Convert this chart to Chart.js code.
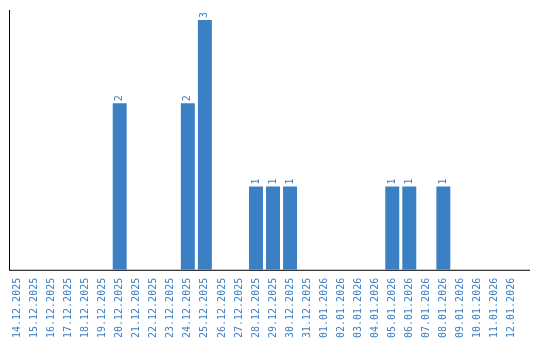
<!DOCTYPE html>
<html>
<head>
<meta charset="utf-8">
<script src="https://cdn.jsdelivr.net/npm/chart.js@4.4.1/dist/chart.umd.min.js"></script>
<style>
  html, body { margin: 0; padding: 0; background: #fff; }
  #wrap { width: 540px; height: 340px; }
</style>
</head>
<body>
<div id="wrap"><canvas id="myChart" width="540" height="340"></canvas></div>
<script>
// Données du graphique
const days = [
    '14.12.2025', '15.12.2025', '16.12.2025', '17.12.2025', '18.12.2025',
    '19.12.2025', '20.12.2025', '21.12.2025', '22.12.2025', '23.12.2025',
    '24.12.2025', '25.12.2025', '26.12.2025', '27.12.2025', '28.12.2025',
    '29.12.2025', '30.12.2025', '31.12.2025', '01.01.2026', '02.01.2026',
    '03.01.2026', '04.01.2026', '05.01.2026', '06.01.2026', '07.01.2026',
    '08.01.2026', '09.01.2026', '10.01.2026', '11.01.2026', '12.01.2026'
];
const counts = [
    0, 0, 0, 0, 0,
    0, 2, 0, 0, 0,
    2, 3, 0, 0, 1,
    1, 1, 0, 0, 0,
    0, 0, 1, 1, 0,
    1, 0, 0, 0, 0
];

const blue = '#3b7fc4';
const mono = '"DejaVu Sans Mono", monospace';

// Plugin : valeur au-dessus de chaque barre (texte vertical) + axe X prolongé
const valueLabels = {
    id: 'valueLabels',
    afterDatasetsDraw(chart) {
        const ctx = chart.ctx;
        const area = chart.chartArea;
        const meta = chart.getDatasetMeta(0);
        ctx.save();
        // l'axe du bas dépasse un peu la dernière catégorie
        ctx.strokeStyle = '#000';
        ctx.lineWidth = 1;
        ctx.beginPath();
        ctx.moveTo(area.left, area.bottom + 0.5);
        ctx.lineTo(area.right + 10, area.bottom + 0.5);
        ctx.stroke();

        ctx.fillStyle = blue;
        ctx.font = '10px ' + mono;
        ctx.textAlign = 'left';
        ctx.textBaseline = 'middle';
        meta.data.forEach((bar, i) => {
            if (!counts[i]) return;
            ctx.save();
            ctx.translate(bar.x, bar.y - 2);
            ctx.rotate(-Math.PI / 2);
            ctx.fillText(String(counts[i]), 0, 0);
            ctx.restore();
        });
        ctx.restore();
    }
};

const ctx = document.getElementById('myChart').getContext('2d');
const myChart = new Chart(ctx, {
    type: 'bar',
    data: {
        labels: days,
        datasets: [{
            data: counts,
            backgroundColor: blue,
            barPercentage: 0.82,
            categoryPercentage: 1,
        }],
    },
    options: {
        responsive: false,
        animation: false,
        layout: { padding: { left: 1, right: 20, top: 10, bottom: 2 } },
        plugins: { legend: { display: false }, tooltip: { enabled: false } },
        scales: {
            x: {
                grid: { display: false },
                border: { display: false },
                ticks: {
                    color: blue,
                    font: { family: mono, size: 10 },
                    minRotation: 90,
                    maxRotation: 90,
                    autoSkip: false,
                    padding: 0,
                },
            },
            y: {
                min: 0,
                max: 3.12,
                grid: { display: false },
                border: { display: true, color: '#000', width: 1 },
                ticks: { display: false },
            },
        },
    },
    plugins: [valueLabels],
});
</script>
</body>
</html>
